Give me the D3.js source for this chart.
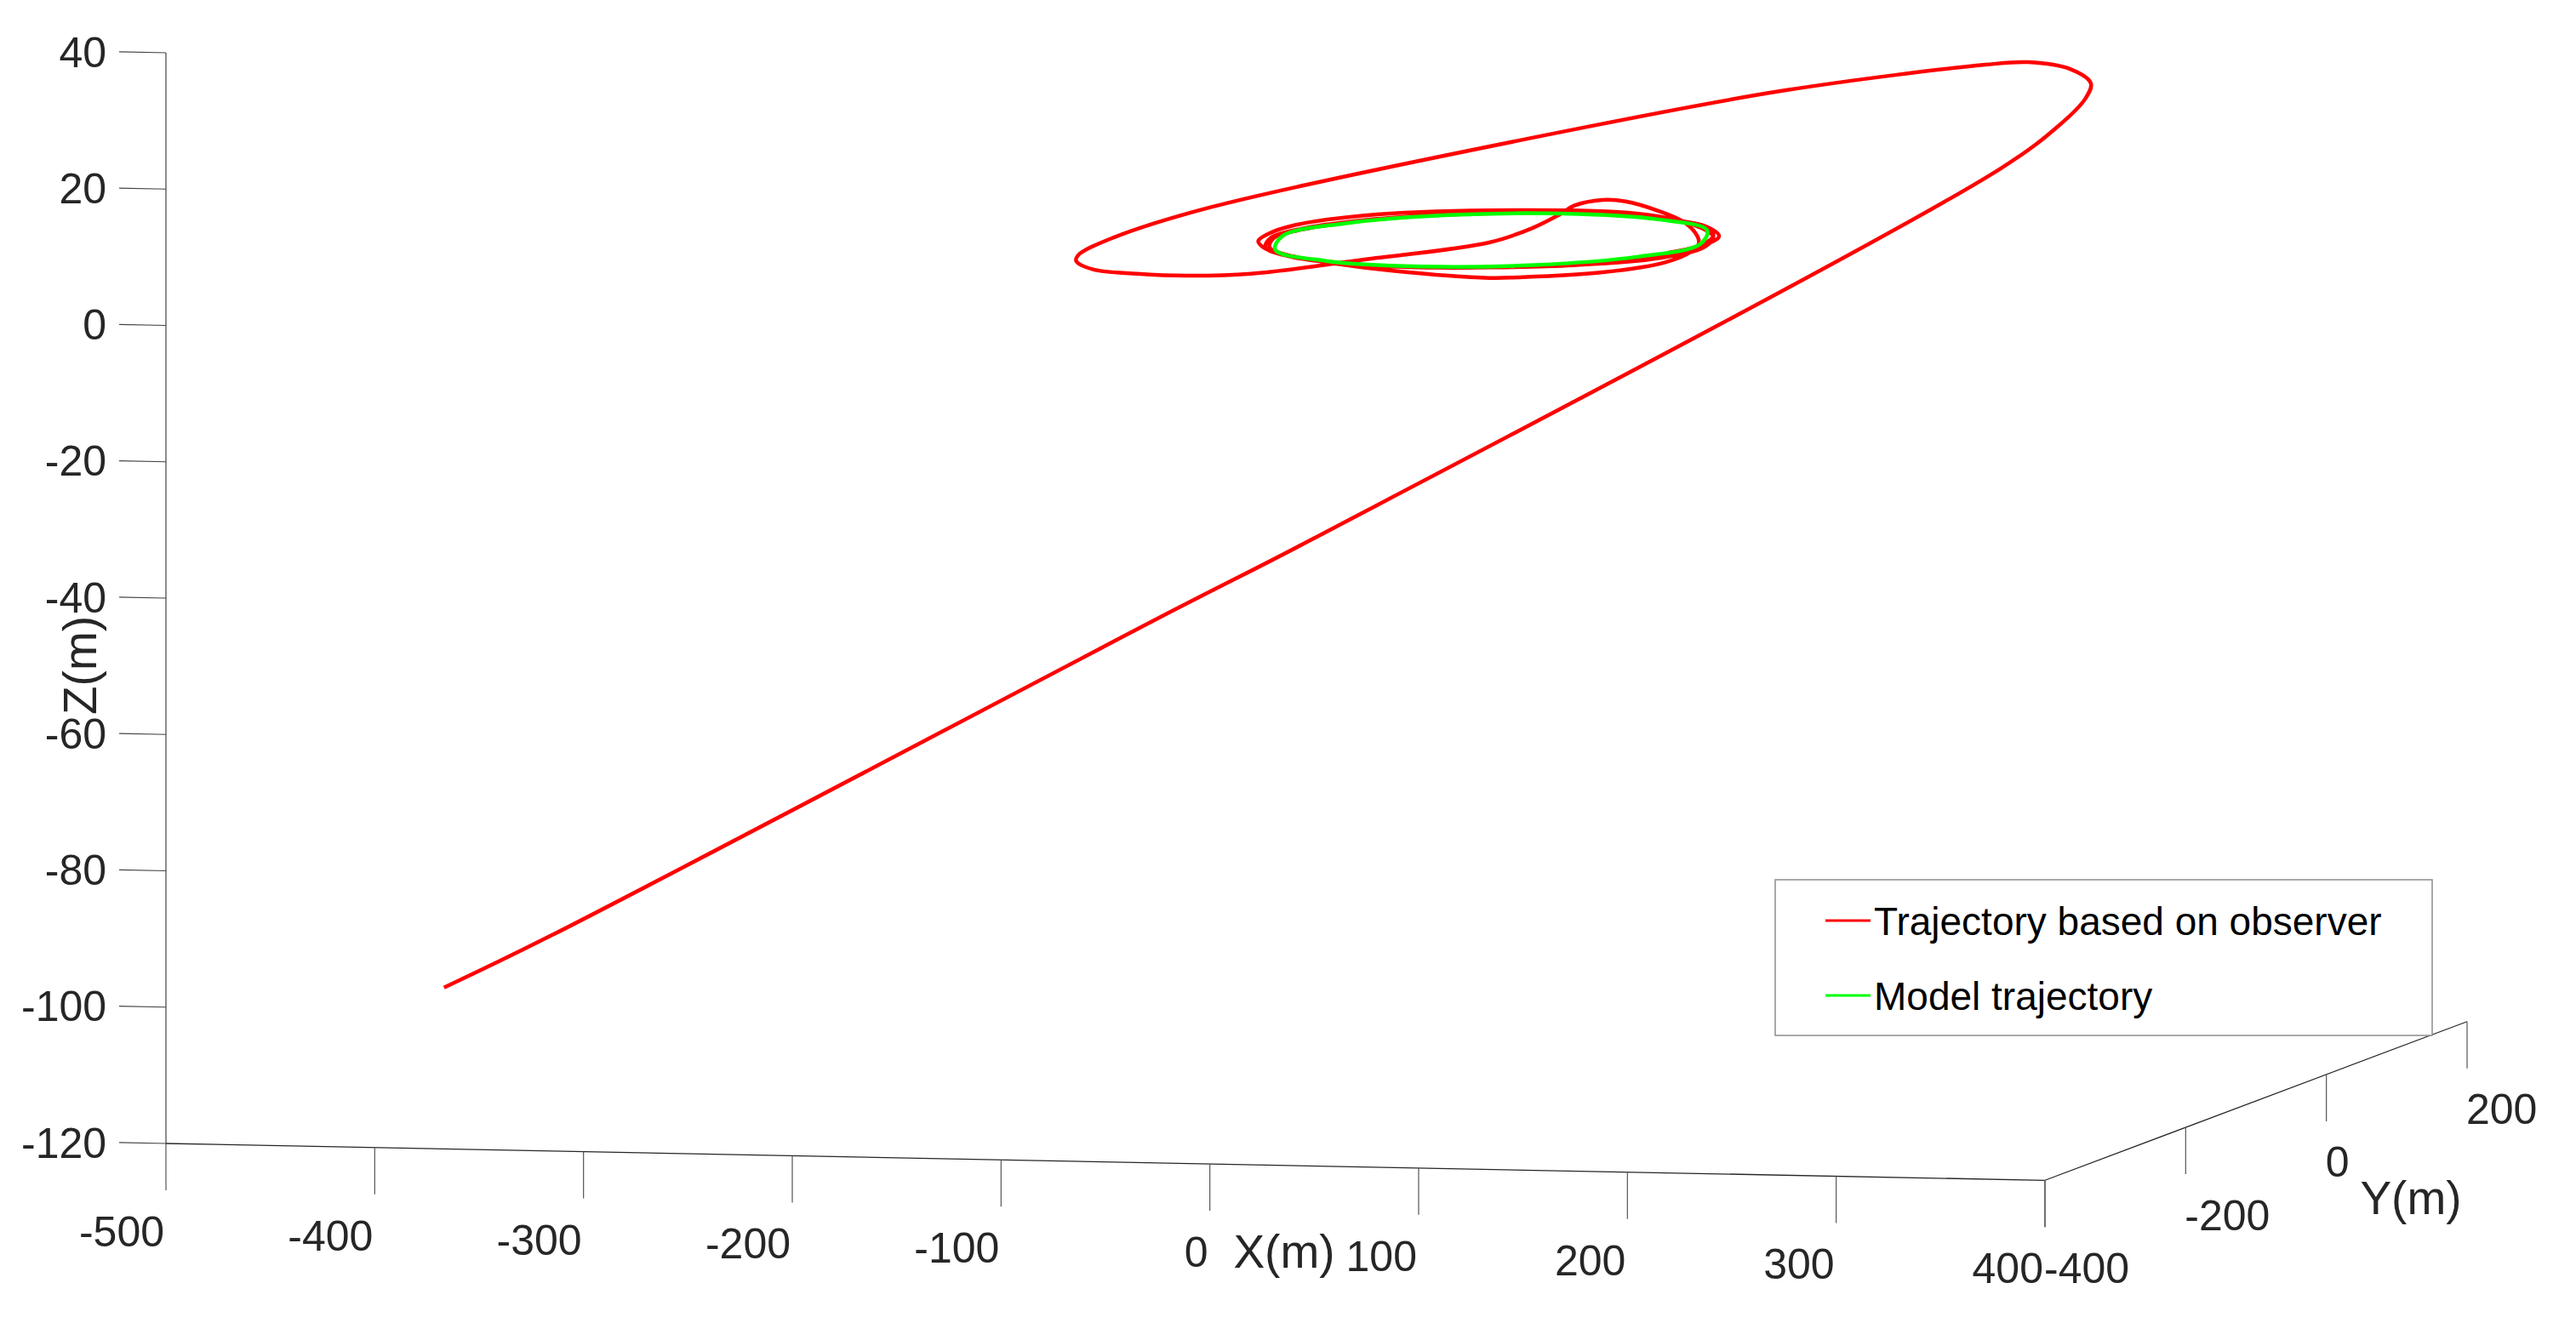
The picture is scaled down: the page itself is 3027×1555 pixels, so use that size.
<!DOCTYPE html>
<meta charset="utf-8">
<script src="https://d3js.org/d3.v7.min.js"></script>
<style>
body { margin: 0; background: #fff; }
text { font-family: "Liberation Sans", Arial, sans-serif; fill: #262626; }
.tick { stroke: #555; stroke-width: 1.2px; }
</style>
<body>
<script>

// tick values of the three axes
var xTicks = [-500, -400, -300, -200, -100, 0, 100, 200, 300, 400];
var yTicks = [-400, -200, 0, 200];
var zTicks = [40, 20, 0, -20, -40, -60, -80, -100, -120];

// trajectory based on observer (X, Y, Z in m)
var obsX = [-434.2, -382.3, -77.0, -10.4, 326.2, 354.7, 365.3, 364.7, 349.9, 324.5,
            300.7, 199.0, 94.8, -92.4, -143.6, -161.7, -163.7, -145.7, -120.5, -95.9,
            -68.7, -34.2, 2.0, 4.2, 0.0, -3.9, 2.1, 14.3, 41.7, 67.1,
            90.0, 99.1, 104.6, 106.1, 89.7, 57.2, 45.0, -7.6, -41.9, -79.9,
            -96.1, -104.9, -109.0, -107.7, -87.4, -36.8, 34.1, 73.5, 97.1, 105.3,
            98.4, 68.2, 32.2, -5.0, -40.0, -72.0, -94.0, -103.0, -100.0, -84.0,
            -56.0, -20.0, 18.0, 54.0, 82.0, 99.0, 103.0, 94.0, 72.0, 38.0,
            0.0, -37.0, -70.0, -92.0, -101.5, -99.0, -86.0, -62.0, -27.0, 10.0,
            46.0, 76.0, 95.0, 101.5, 96.0];
var obsY = [-200, -203, -222, -226, -245, -245, -240, -230, -215, -200,
            -190, -170, -150, -125, -112, -107, -104.2, -133.6, -145.8, -149.4,
            -137.8, -78.7, -8.8, 45.2, 98.0, 129.5, 151.9, 148.3, 115.3, 76.1,
            26.3, 0.7, -25.2, -67.7, -107.9, -132.1, -136.3, -117.4, -96.0, -64.3,
            -40.1, -19.9, 6.2, 38.5, 79.3, 106.4, 105.4, 69.0, 27.4, -9.0,
            -52.8, -84.4, -98.4, -103, -95, -73, -42, -8, 28, 60,
            87, 102, 102, 88, 63, 30, -6, -42, -74, -96,
            -103, -94.5, -73, -42, -8, 24, 54, 81, 98, 101.5,
            91, 67, 34, 0, -33];
var obsZ = [-104.5, -96.5, -46.1, -35.3, 21.9, 28.5, 32.2, 34.1, 35.5, 35.8,
            34.9, 29.8, 22.9, 9.1, 3.8, 1.0, 0, 0, 0, 0,
            0, 0, 0, 0, 0, 0, 0, 0, 0, 0,
            0, 0, 0, 0, 0, 0, 0, 0, 0, 0,
            0, 0, 0, 0, 0, 0, 0, 0, 0, 0,
            0, 0, 0, 0, 0, 0, 0, 0, 0, 0,
            0, 0, 0, 0, 0, 0, 0, 0, 0, 0,
            0, 0, 0, 0, 0, 0, 0, 0, 0, 0,
            0, 0, 0, 0, 0];

// model trajectory (loiter circle)
var modelX = [100, 86.6, 50, 0, -50, -86.6, -100, -86.6, -50, 0, 50, 86.6];
var modelY = [0, 50, 86.6, 100, 86.6, 50, 0, -50, -86.6, -100, -86.6, -50];
var modelZ = [0, 0, 0, 0, 0, 0, 0, 0, 0, 0, 0, 0];

var width = 3027, height = 1555;

// orthographic view: each data axis contributes a screen offset
var originX = 195;
var xPx = d3.scaleLinear().domain([-500, 400]).range([0, 2208]);
var xPy = d3.scaleLinear().domain([-500, 400]).range([0, 43.3]);
var yPx = d3.scaleLinear().domain([-400, 200]).range([0, 496]);
var yPy = d3.scaleLinear().domain([-400, 200]).range([0, -186.6]);
var zPy = d3.scaleLinear().domain([-120, 40]).range([1344, 62]);

function proj(x, y, z) {
  return [originX + xPx(x) + yPx(y), zPy(z) + xPy(x) + yPy(y)];
}

var svg = d3.select("body").append("svg")
    .attr("width", width)
    .attr("height", height);

function seg(p, q, cls, color, w) {
  svg.append("line")
    .attr("class", cls)
    .attr("x1", p[0]).attr("y1", p[1])
    .attr("x2", q[0]).attr("y2", q[1])
    .style("stroke", color)
    .style("stroke-width", w);
}

// axis lines
seg(proj(-500, -400, -120), proj(-500, -400, 40), "axis", "#8c8c8c", 2);
seg(proj(-500, -400, -120), proj(400, -400, -120), "axis", "#262626", 1.3);
seg(proj(400, -400, -120), proj(400, 200, -120), "axis", "#262626", 1.2);

// Z ticks + labels
zTicks.forEach(function(t) {
  seg(proj(-522.4, -400, t), proj(-500, -400, t), "tick", "#444", 1.2);
  var p = proj(-528.5, -400, t);
  svg.append("text")
    .attr("x", p[0]).attr("y", p[1])
    .attr("dy", "0.36em")
    .attr("text-anchor", "end")
    .style("font-size", "50px")
    .text(t);
});

// X ticks + labels
xTicks.forEach(function(t) {
  var p = proj(t, -400, -120);
  seg(p, [p[0], p[1] + 55], "tick", "#555", 1.2);
  svg.append("text")
    .attr("x", p[0] - 2).attr("y", p[1] + 103)
    .attr("dy", "0.36em")
    .attr("text-anchor", "end")
    .style("font-size", "50px")
    .text(t);
});

// Y ticks + labels
yTicks.forEach(function(t) {
  var p = proj(400, t, -120);
  seg(p, [p[0], p[1] + 55], "tick", "#555", 1.2);
  svg.append("text")
    .attr("x", p[0] - 1).attr("y", p[1] + 102.5)
    .attr("dy", "0.36em")
    .attr("text-anchor", "start")
    .style("font-size", "50px")
    .text(t);
});

// axis titles
svg.append("text")
  .attr("x", 1509).attr("y", 1490)
  .attr("text-anchor", "middle")
  .style("font-size", "55px")
  .text("X(m)");

svg.append("text")
  .attr("x", 2833).attr("y", 1427)
  .attr("text-anchor", "middle")
  .style("font-size", "55px")
  .text("Y(m)");

svg.append("text")
  .attr("transform", "translate(113,782) rotate(-90)")
  .attr("text-anchor", "middle")
  .style("font-size", "55px")
  .text("Z(m)");

// trajectories
var obs = obsX.map(function(x, i) { return proj(x, obsY[i], obsZ[i]); });
var model = modelX.map(function(x, i) { return proj(x, modelY[i], modelZ[i]); });

svg.append("path")
  .attr("d", d3.line().curve(d3.curveCatmullRom.alpha(0.5))(obs))
  .style("fill", "none")
  .style("stroke", "#ff0000")
  .style("stroke-width", 4.5)
  .style("stroke-linejoin", "round");

svg.append("path")
  .attr("d", d3.line().curve(d3.curveCatmullRomClosed.alpha(0.5))(model))
  .style("fill", "none")
  .style("stroke", "#00ff00")
  .style("stroke-width", 4.5);

// legend
var legend = svg.append("g");
legend.append("rect")
  .attr("x", 2086).attr("y", 1034)
  .attr("width", 772).attr("height", 183)
  .style("fill", "#fff")
  .style("stroke", "#8c8c8c")
  .style("stroke-width", 1.5);

var legendItems = [
  {name: "Trajectory based on observer", color: "#ff0000"},
  {name: "Model trajectory", color: "#00ff00"}
];

legendItems.forEach(function(d, i) {
  var y = 1082 + i * 88;
  legend.append("line")
    .attr("x1", 2145).attr("x2", 2198)
    .attr("y1", y).attr("y2", y)
    .style("stroke", d.color)
    .style("stroke-width", 3);
  legend.append("text")
    .attr("x", 2202).attr("y", y)
    .attr("dy", "0.36em")
    .style("font-size", "46px")
    .style("fill", "#000")
    .text(d.name);
});

</script>
</body>
